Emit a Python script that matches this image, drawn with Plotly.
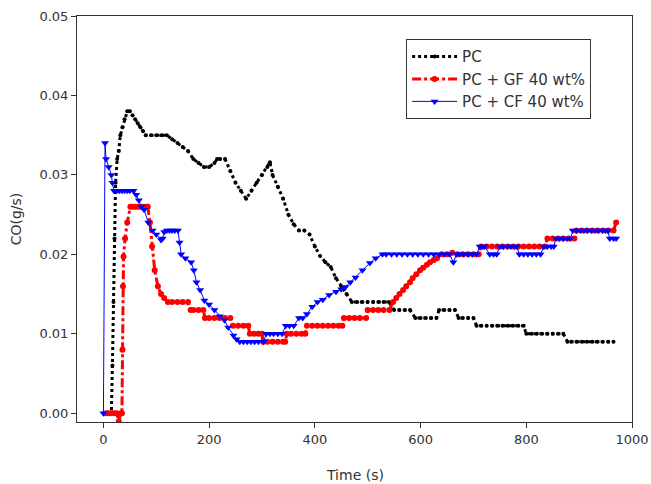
import plotly.graph_objects as go

# ---- data ----
pc_t = [10,15,17,19,21,23,26,29,32,36,
        40,45,50,55,60,65,70,75,80,90,
        100,110,120,130,140,150,160,170,180,190,
        200,210,215,220,230,240,250,260,270,280,
        290,300,310,315,320,330,340,350,360,370,
        380,390,400,410,420,430,440,450,460,470,
        480,490,500,510,520,530,540,550,560,570,
        580,590,600,610,620,630,635,645,655,665,
        672,680,690,700,706,715,725,735,745,755,
        765,775,785,795,800,810,820,830,840,850,
        860,870,878,885,895,905,915,925,935,945,
        955,965]
pc_co = [0,0,0.006,0.014,0.022,0.029,0.032,0.033,0.035,0.036,
         0.037,0.038,0.038,0.0375,0.037,0.0365,0.036,0.0355,0.035,0.035,
         0.035,0.035,0.035,0.0345,0.034,0.0335,0.033,0.032,0.0315,0.031,
         0.031,0.0315,0.032,0.032,0.032,0.0305,0.029,0.028,0.027,0.028,
         0.029,0.030,0.031,0.0316,0.030,0.0285,0.027,0.025,0.0238,0.023,
         0.023,0.0225,0.021,0.0198,0.019,0.0184,0.017,0.016,0.015,0.014,
         0.014,0.014,0.014,0.014,0.014,0.014,0.014,0.013,0.013,0.013,
         0.013,0.012,0.012,0.012,0.012,0.012,0.013,0.013,0.013,0.013,
         0.012,0.012,0.012,0.012,0.011,0.011,0.011,0.011,0.011,0.011,
         0.011,0.011,0.011,0.011,0.010,0.010,0.010,0.010,0.010,0.010,
         0.010,0.010,0.009,0.009,0.009,0.009,0.009,0.009,0.009,0.009,
         0.009,0.009]

gf_t = [5,10,15,20,25,29,33,35,36,37,
        38,41,45,51,55,60,65,70,75,80,
        84,88,92,97,103,109,115,122,130,140,
        150,160,165,170,180,189,192,200,210,220,
        230,240,245,255,265,274,277,285,293,300,
        302,310,320,330,340,344,347,355,365,375,
        382,385,395,405,415,425,435,445,452,455,
        465,475,485,497,500,510,520,530,541,548,
        554,560,567,573,580,585,592,599,605,612,
        618,625,631,640,650,660,670,680,690,700,
        710,715,725,735,745,755,765,775,785,795,
        805,815,825,835,840,850,860,870,880,891,
        895,905,915,925,935,945,955,965,970]
gf_co = [0,0,0,0,0,-0.001,0,0,0.008,0.016,
         0.0197,0.022,0.024,0.026,0.026,0.026,0.026,0.026,0.026,0.026,
         0.026,0.024,0.021,0.018,0.016,0.015,0.0145,0.014,0.014,0.014,
         0.014,0.014,0.013,0.013,0.013,0.013,0.012,0.012,0.012,0.012,
         0.012,0.012,0.011,0.011,0.011,0.011,0.010,0.010,0.010,0.010,
         0.009,0.009,0.009,0.009,0.009,0.009,0.010,0.010,0.010,0.010,
         0.010,0.011,0.011,0.011,0.011,0.011,0.011,0.011,0.011,0.012,
         0.012,0.012,0.012,0.012,0.013,0.013,0.013,0.013,0.013,0.014,
         0.0145,0.015,0.0155,0.016,0.0165,0.017,0.0175,0.018,0.0183,0.0187,
         0.019,0.0193,0.0195,0.020,0.020,0.0202,0.020,0.020,0.020,0.020,
         0.020,0.021,0.021,0.021,0.021,0.021,0.021,0.021,0.021,0.021,
         0.021,0.021,0.021,0.021,0.022,0.022,0.022,0.022,0.022,0.022,
         0.023,0.023,0.023,0.023,0.023,0.023,0.023,0.023,0.024]

cf_t = [0,3,5,10,15,17,20,25,30,35,
        40,45,50,57,62,67,72,77,85,93,
        100,109,112,115,120,125,130,135,141,144,
        147,155,166,171,176,183,191,200,210,220,
        229,236,246,252,258,265,272,279,286,293,
        303,308,315,322,330,338,345,352,360,370,
        377,385,395,405,415,427,440,450,458,467,
        477,490,504,515,528,535,545,555,565,575,
        585,595,605,615,625,635,645,655,662,668,
        674,682,690,698,706,712,718,721,731,738,
        744,750,757,764,771,778,782,787,795,803,
        811,819,827,833,840,847,852,856,863,870,
        877,884,888,895,902,909,916,923,930,937,
        944,950,954,958,965,970]
cf_co = [0,0.034,0.032,0.031,0.030,0.029,0.028,0.028,0.028,0.028,
         0.028,0.028,0.028,0.028,0.0275,0.0268,0.026,0.0256,0.024,0.023,
         0.0225,0.0218,0.022,0.0228,0.023,0.023,0.023,0.023,0.023,0.0215,
         0.020,0.0195,0.019,0.018,0.0165,0.0155,0.0142,0.0137,0.013,0.0122,
         0.0117,0.0108,0.0098,0.0093,0.009,0.009,0.009,0.009,0.009,0.009,
         0.009,0.010,0.010,0.010,0.010,0.010,0.011,0.011,0.011,0.012,
         0.012,0.0125,0.0134,0.014,0.0143,0.0149,0.0153,0.0156,0.0159,0.0165,
         0.0171,0.018,0.0189,0.0195,0.020,0.020,0.020,0.020,0.020,0.020,
         0.020,0.020,0.020,0.020,0.020,0.020,0.020,0.020,0.019,0.020,
         0.020,0.020,0.020,0.020,0.020,0.021,0.021,0.021,0.020,0.020,
         0.020,0.021,0.021,0.021,0.021,0.021,0.021,0.020,0.020,0.020,
         0.020,0.020,0.020,0.021,0.021,0.021,0.021,0.022,0.022,0.022,
         0.022,0.022,0.023,0.023,0.023,0.023,0.023,0.023,0.023,0.023,
         0.023,0.023,0.023,0.022,0.022,0.022]

names = ["PC", "PC + GF 40 wt%", "PC + CF 40 wt%"]
x_ticks = [0, 200, 400, 600, 800, 1000]
y_ticks = [0.00, 0.01, 0.02, 0.03, 0.04, 0.05]
y_tick_text = ["0.00", "0.01", "0.02", "0.03", "0.04", "0.05"]
x_title = "Time (s)"
y_title = "CO(g/s)"

for a, b in ((pc_t, pc_co), (gf_t, gf_co), (cf_t, cf_co)):
    assert len(a) == len(b), (len(a), len(b))

FONT = "DejaVu Sans"
INK = "#333333"

fig = go.Figure()
fig.add_trace(go.Scatter(
    x=pc_t, y=pc_co, name=names[0], mode="lines+markers",
    line=dict(color="black", width=3, dash="dot"),
    marker=dict(symbol="circle", size=4, color="black"),
))
fig.add_trace(go.Scatter(
    x=gf_t, y=gf_co, name=names[1], mode="lines+markers",
    line=dict(color="#ff0000", width=3, dash="dashdot"),
    marker=dict(symbol="circle", size=6, color="#ff0000"),
))
fig.add_trace(go.Scatter(
    x=cf_t, y=cf_co, name=names[2], mode="lines+markers",
    line=dict(color="#0000ff", width=1),
    marker=dict(symbol="triangle-down", size=7, color="#0000ff"),
))

axis_common = dict(
    showline=True, mirror=True, linecolor=INK, linewidth=1,
    ticks="outside", ticklen=5, tickcolor=INK, tickwidth=1,
    showgrid=False, zeroline=False, automargin=False,
    tickfont=dict(family=FONT, size=13, color=INK),
)

fig.update_xaxes(range=[-50, 1000], tickvals=x_ticks, **axis_common)
fig.update_yaxes(
    range=[-0.0011, 0.05], tickvals=y_ticks, ticktext=y_tick_text,
    title=dict(text=y_title, font=dict(family=FONT, size=14, color=INK), standoff=14),
    **axis_common,
)

# x-axis title placed as annotation, low near the page edge as in the reference
fig.add_annotation(
    text=x_title, xref="paper", yref="paper", x=0.5, y=-0.131,
    xanchor="center", yanchor="middle", showarrow=False,
    font=dict(family=FONT, size=14, color=INK),
)

fig.update_layout(
    width=651, height=484,
    margin=dict(l=77, r=19, t=16, b=62),
    plot_bgcolor="white", paper_bgcolor="white",
    font=dict(family=FONT, size=13, color=INK),
    legend=dict(
        x=0.593, y=0.943, xanchor="left", yanchor="top",
        bgcolor="white", bordercolor=INK, borderwidth=1,
        font=dict(family=FONT, size=15, color=INK),
        tracegroupgap=0, itemwidth=45,
    ),
)

fig.write_html("out.html")
